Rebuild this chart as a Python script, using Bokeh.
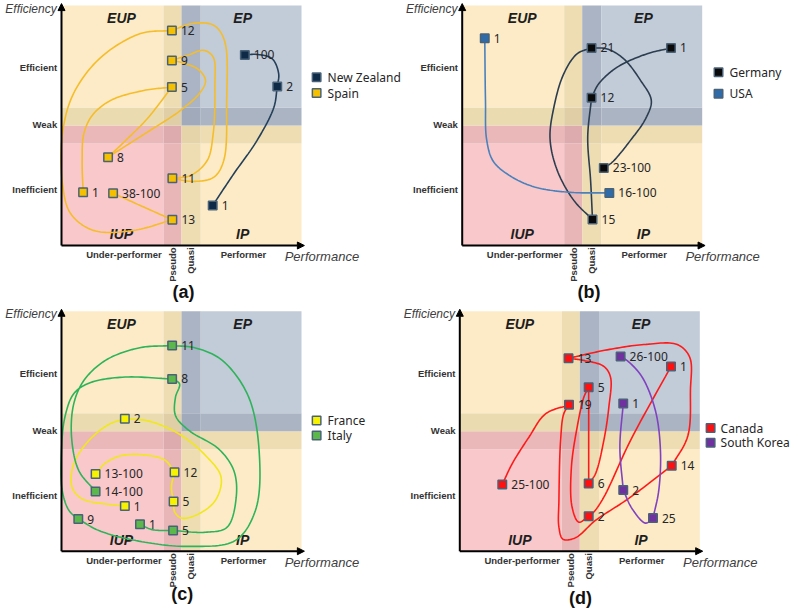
import numpy as np
from bokeh.plotting import figure
from bokeh.models import Range1d, Arrow, NormalHead
from bokeh.layouts import column, row
from bokeh.embed import file_html
from bokeh.resources import INLINE
from bokeh.core.properties import value

# ---------------- data ----------------
# axis category labels
eff_labels = ["Efficient", "Weak", "Inefficient"]
eff_y = [7.40, 5.05, 2.33]
perf_labels = ["Under-performer", "Performer"]
perf_x = [2.60, 7.58]
band_labels = ["Pseudo", "Quasi"]
band_label_x = [4.62, 5.38]
region_labels = ["EUP", "EP", "IUP", "IP"]
region_x = [2.5, 7.55, 2.5, 7.55]
region_y = [9.47, 9.47, 0.47, 0.47]

# quadrant grid edges (performance / efficiency bands)
band_x = [0, 4.25, 5.0, 5.8, 10.0]
band_y = [0, 4.25, 5.0, 5.75, 10.0]

# Panel (a)
nz_labels = ["1", "2", "100"]
nz_x = [6.30, 8.99, 7.64]
nz_y = [1.67, 6.63, 7.94]
nz_via = [
    [(7.18, 2.99), (8.15, 4.38), (8.85, 5.76)],
    [(9.05, 7.15), (8.78, 7.78), (8.15, 7.96)],
]
spain_labels = ["1", "5", "8", "9", "11", "12", "13", "38-100"]
spain_x = [0.90, 4.60, 1.94, 4.60, 4.62, 4.60, 4.62, 2.15]
spain_y = [2.22, 6.60, 3.68, 7.71, 2.80, 8.96, 1.07, 2.18]
spain_via = [
    [(0.86, 3.54), (0.93, 4.65), (1.28, 5.42), (2.04, 6.04), (3.43, 6.46)],
    [(3.57, 5.28), (2.74, 4.44)],
    [(3.57, 4.72), (4.96, 5.63), (5.79, 6.39), (6.0, 6.88), (5.72, 7.32), (5.10, 7.60)],
    [(5.24, 7.92), (5.93, 8.13), (6.32, 7.85), (6.39, 6.60), (6.32, 4.65), (6.07, 3.54), (5.38, 2.92)],
    [(5.51, 2.67), (6.35, 2.85), (6.76, 3.54), (6.88, 5.90), (6.79, 8.54), (6.35, 9.17), (5.51, 9.26)],
    [(3.29, 8.83), (1.63, 7.83), (0.50, 6.33), (0.04, 4.67), (0.04, 2.58), (0.38, 1.33), (1.33, 0.63), (3.0, 0.63)],
    [(3.43, 1.60)],
]

# Panel (b)
germany_labels = ["1", "12", "15", "21", "23-100"]
germany_x = [8.70, 5.39, 5.43, 5.39, 5.90]
germany_y = [8.23, 6.16, 1.08, 8.23, 3.23]
germany_via = [
    [(7.71, 7.99), (6.46, 7.43), (5.69, 6.74)],
    [(5.23, 4.51), (5.35, 2.71)],
    [(4.65, 1.88), (3.96, 3.13), (3.66, 4.45), (3.82, 5.76), (4.23, 7.15), (4.79, 7.99)],
    [(6.04, 8.19), (6.73, 7.78), (7.43, 6.88), (7.88, 6.04), (7.64, 5.28), (7.01, 4.38), (6.25, 3.47)],
]
usa_labels = ["1", "16-100"]
usa_x = [0.94, 6.13]
usa_y = [8.64, 2.19]
usa_via = [
    [(0.97, 6.04), (1.02, 4.40), (1.30, 3.50), (2.08, 2.85), (3.05, 2.43), (4.44, 2.22)],
]

# Panel (c)
france_labels = ["1", "2", "5", "12", "13-100"]
france_x = [2.64, 2.64, 4.67, 4.71, 1.42]
france_y = [1.88, 5.52, 2.07, 3.29, 3.22]
france_via = [
    [(1.83, 1.97), (0.86, 2.18), (0.44, 2.67), (0.51, 3.64), (1.14, 4.61), (1.97, 5.28)],
    [(3.64, 5.42), (4.89, 4.89), (6.0, 3.99), (6.65, 3.08), (6.40, 2.10), (5.60, 1.50), (5.0, 1.38), (4.72, 1.63)],
    [(4.58, 2.67)],
    [(4.33, 3.78), (3.64, 3.99), (2.53, 3.99), (1.83, 3.67)],
]
italy_labels = ["1", "5", "8", "9", "11", "14-100"]
italy_x = [3.27, 4.65, 4.61, 0.70, 4.61, 1.42]
italy_y = [1.12, 0.86, 7.18, 1.34, 8.57, 2.49]
italy_via = [
    [(3.78, 0.90)],
    [(6.0, 0.79), (6.9, 1.0), (7.28, 2.25), (7.18, 3.36), (6.55, 4.26), (5.31, 5.03), (4.75, 5.65), (4.75, 6.42), (4.92, 6.97)],
    [(2.53, 7.25), (1.14, 7.0), (0.51, 6.56), (0.14, 5.58), (0.0, 4.2), (0.03, 2.53), (0.31, 1.70)],
    [(1.56, 0.86), (3.22, 0.42), (5.31, 0.20), (7.25, 0.45), (8.08, 1.70), (8.25, 3.92), (7.80, 6.42), (6.70, 7.95), (5.58, 8.47)],
    [(3.22, 8.47), (1.83, 7.95), (0.93, 7.11), (0.51, 6.14), (0.42, 4.75), (0.72, 3.36)],
]

# Panel (d)
canada_labels = ["1", "2", "5", "6", "13", "14", "19", "25-100"]
canada_x = [8.80, 5.37, 5.37, 5.37, 4.53, 8.83, 4.55, 1.77]
canada_y = [7.70, 1.46, 6.83, 2.82, 8.04, 3.56, 6.10, 2.78]
canada_via = [
    [(7.11, 4.61), (6.0, 2.25), (5.58, 1.63)],
    [(4.96, 1.21), (4.68, 1.83), (4.65, 3.5), (4.89, 5.17), (5.17, 6.42)],
    [],
    [(5.65, 3.22), (6.0, 4.61), (6.21, 6.0), (6.28, 7.25), (6.0, 7.70), (5.17, 7.95)],
    [(6.14, 8.39), (7.67, 8.61), (9.06, 8.61), (9.58, 8.08), (9.61, 6.70), (9.50, 4.80)],
    [(7.04, 2.20), (5.65, 1.28), (4.82, 0.56), (4.30, 0.50), (4.13, 1.0), (4.13, 2.11), (4.20, 4.61), (4.33, 5.72)],
    [(3.57, 5.72), (2.88, 4.75), (2.18, 3.64)],
]
korea_labels = ["1", "2", "25", "26-100"]
korea_x = [6.81, 6.81, 8.05, 6.70]
korea_y = [6.15, 2.55, 1.38, 8.11]
korea_via = [
    [(6.67, 4.33)],
    [(7.18, 1.77), (7.74, 1.17)],
    [(8.29, 2.53), (8.36, 4.20), (8.15, 5.86), (7.60, 7.25), (7.0, 7.92)],
]

# ---------------- styling ----------------
SX, SY = 24.0, 24.0
cell_colors = [  # rows bottom -> top, columns left -> right
    ["#F8C8CA", "#E9B6B8", "#EEDDB3", "#FCEBC6"],
    ["#EAB8B9", "#DDABAD", "#E5D3A9", "#EEDDB2"],
    ["#EBDBB0", "#E0CFA6", "#A0AABA", "#AAB4C3"],
    ["#FCEBC6", "#EEDDB3", "#AAB4C4", "#C2CBD8"],
]
OUTLINE = "#4A6278"
TXT = value("Noto Sans")
BOLD_FONT = value("Liberation Sans")


def smooth(points, n=16):
    P = np.array(points, dtype=float)
    if len(P) == 2:
        return list(P[:, 0]), list(P[:, 1])
    ext = np.vstack([2 * P[0] - P[1], P, 2 * P[-1] - P[-2]])
    out = [P[0]]
    for i in range(1, len(ext) - 2):
        p0, p1, p2, p3 = ext[i - 1], ext[i], ext[i + 1], ext[i + 2]
        t0 = 0.0
        t1 = t0 + max(np.linalg.norm(p1 - p0), 1e-6) ** 0.5
        t2 = t1 + max(np.linalg.norm(p2 - p1), 1e-6) ** 0.5
        t3 = t2 + max(np.linalg.norm(p3 - p2), 1e-6) ** 0.5
        t = np.linspace(t1, t2, n)[1:, None]
        A1 = (t1 - t) / (t1 - t0) * p0 + (t - t0) / (t1 - t0) * p1
        A2 = (t2 - t) / (t2 - t1) * p1 + (t - t1) / (t2 - t1) * p2
        A3 = (t3 - t) / (t3 - t2) * p2 + (t - t2) / (t3 - t2) * p3
        B1 = (t2 - t) / (t2 - t0) * A1 + (t - t0) / (t2 - t0) * A2
        B2 = (t3 - t) / (t3 - t1) * A2 + (t - t1) / (t3 - t1) * A3
        C = (t2 - t) / (t2 - t1) * B1 + (t - t1) / (t2 - t1) * B2
        out.extend(C)
    out = np.array(out)
    return list(out[:, 0]), list(out[:, 1])


def trajectory(xs, ys, via):
    X, Y = [], []
    for i in range(len(xs) - 1):
        pts = [(xs[i], ys[i])] + list(via[i]) + [(xs[i + 1], ys[i + 1])]
        cx, cy = smooth(pts)
        if i > 0:
            cx, cy = cx[1:], cy[1:]
        X.extend(cx)
        Y.extend(cy)
    return X, Y


def make_panel(width, height, ox, oy, caption, cap_x, cap_y, series, leg_x, leg_y, leg_dx=11):
    p = figure(width=width, height=height,
               x_range=Range1d(-ox / SX, (width - ox) / SX),
               y_range=Range1d(-(height - oy) / SY, oy / SY),
               x_axis_type=None, y_axis_type=None,
               toolbar_location=None, output_backend="svg", min_border=0)
    p.outline_line_color = None
    p.background_fill_color = "white"
    p.border_fill_color = "white"

    # quadrant cells
    L, R, B, T, C = [], [], [], [], []
    for r in range(4):
        for c in range(4):
            L.append(band_x[c]); R.append(band_x[c + 1])
            B.append(band_y[r]); T.append(band_y[r + 1])
            C.append(cell_colors[r][c])
    p.quad(left=L, right=R, bottom=B, top=T, fill_color=C, line_color=None)

    # axes
    p.add_layout(Arrow(end=NormalHead(size=7, fill_color="black", line_color="black", line_width=1),
                       x_start=0, y_start=0, x_end=0, y_end=10.08, line_width=2, line_color="black"))
    p.add_layout(Arrow(end=NormalHead(size=7, fill_color="black", line_color="black", line_width=1),
                       x_start=0, y_start=0, x_end=10.12, y_end=0, line_width=2, line_color="black"))

    # axis texts
    p.text(x=[-0.18] * 3, y=eff_y, text=eff_labels, text_align="right", text_baseline="middle",
           text_font=BOLD_FONT, text_font_style="bold", text_font_size="9.5px", text_color="#333333")
    p.text(x=perf_x, y=[-0.38] * 2, text=perf_labels, text_align="center", text_baseline="middle",
           text_font=BOLD_FONT, text_font_style="bold", text_font_size="9.5px", text_color="#333333")
    p.text(x=band_label_x, y=[-0.08] * 2, text=band_labels, angle=np.pi / 2, text_align="right",
           text_baseline="middle", text_font=BOLD_FONT, text_font_style="bold",
           text_font_size="9.5px", text_color="#333333")
    p.text(x=[-0.2], y=[9.87], text=["Efficiency"], text_align="right", text_baseline="middle",
           text_font=BOLD_FONT, text_font_style="italic", text_font_size="12px", text_color="#404040")
    p.text(x=[9.3], y=[-0.46], text=["Performance"], text_align="left", text_baseline="middle",
           text_font=BOLD_FONT, text_font_style="italic", text_font_size="13px", text_color="#404040")
    p.text(x=region_x, y=region_y, text=region_labels, text_align="center", text_baseline="middle",
           text_font=BOLD_FONT, text_font_style="bold italic", text_font_size="14px", text_color="#1E1E1E")
    p.text(x=[cap_x], y=[cap_y], text=[caption], text_align="center", text_baseline="middle",
           text_font=BOLD_FONT, text_font_style="bold", text_font_size="18px", text_color="#111111")

    # trajectories
    for s in series:
        tx, ty = trajectory(s["x"], s["y"], s["via"])
        p.line(tx, ty, line_color=s["line"], line_width=1.6)
    for s in series:
        p.scatter(s["x"], s["y"], marker="square", size=8.5, fill_color=s["fill"],
                  line_color=OUTLINE, line_width=1.5)
        p.text(x=s["x"], y=s["y"], text=s["labels"], x_offset=9, text_baseline="middle",
               text_font=TXT, text_font_size="12px", text_color="#262626")

    # legend
    for s, ly in zip(series, leg_y):
        p.scatter([leg_x], [ly], marker="square", size=8.5, fill_color=s["fill"],
                  line_color=OUTLINE, line_width=1.5)
        p.text(x=[leg_x], y=[ly], text=[s["name"]], x_offset=leg_dx, text_baseline="middle",
               text_font=TXT, text_font_size="12px", text_color="#262626")
    return p


nz = dict(name="New Zealand", labels=nz_labels, x=nz_x, y=nz_y, via=nz_via, fill="#0E2A47", line="#243F58")
spain = dict(name="Spain", labels=spain_labels, x=spain_x, y=spain_y, via=spain_via, fill="#F4C000", line="#F5BD2A")
germany = dict(name="Germany", labels=germany_labels, x=germany_x, y=germany_y, via=germany_via, fill="#0A0A0A", line="#2B3D4F")
usa = dict(name="USA", labels=usa_labels, x=usa_x, y=usa_y, via=usa_via, fill="#2F6BA8", line="#4A80BC")
france = dict(name="France", labels=france_labels, x=france_x, y=france_y, via=france_via, fill="#F7F200", line="#F0E81A")
italy = dict(name="Italy", labels=italy_labels, x=italy_x, y=italy_y, via=italy_via, fill="#5CB84A", line="#2DB35A")
canada = dict(name="Canada", labels=canada_labels, x=canada_x, y=canada_y, via=canada_via, fill="#FF1010", line="#FF1A1A")
korea = dict(name="South Korea", labels=korea_labels, x=korea_x, y=korea_y, via=korea_via, fill="#7030A0", line="#8042C0")

pa = make_panel(403, 303, 61, 245, "(a)", 5.08, -1.95, [nz, spain], 10.63, [7.01, 6.35])
pb = make_panel(387, 303, 58.7, 245, "(b)", 5.28, -1.92, [germany, usa], 10.68, [7.22, 6.32])
pc = make_panel(395, 307, 61, 247.7, "(c)", 5.03, -1.8, [france, italy], 10.63, [5.45, 4.82])
pd = make_panel(395, 307, 64.3, 247.7, "(d)", 5.03, -1.95, [canada, korea], 10.45, [5.13, 4.52], leg_dx=10)

layout = column(row(pa, pb), row(pc, pd))
open("out.html", "w").write(file_html(layout, INLINE))
